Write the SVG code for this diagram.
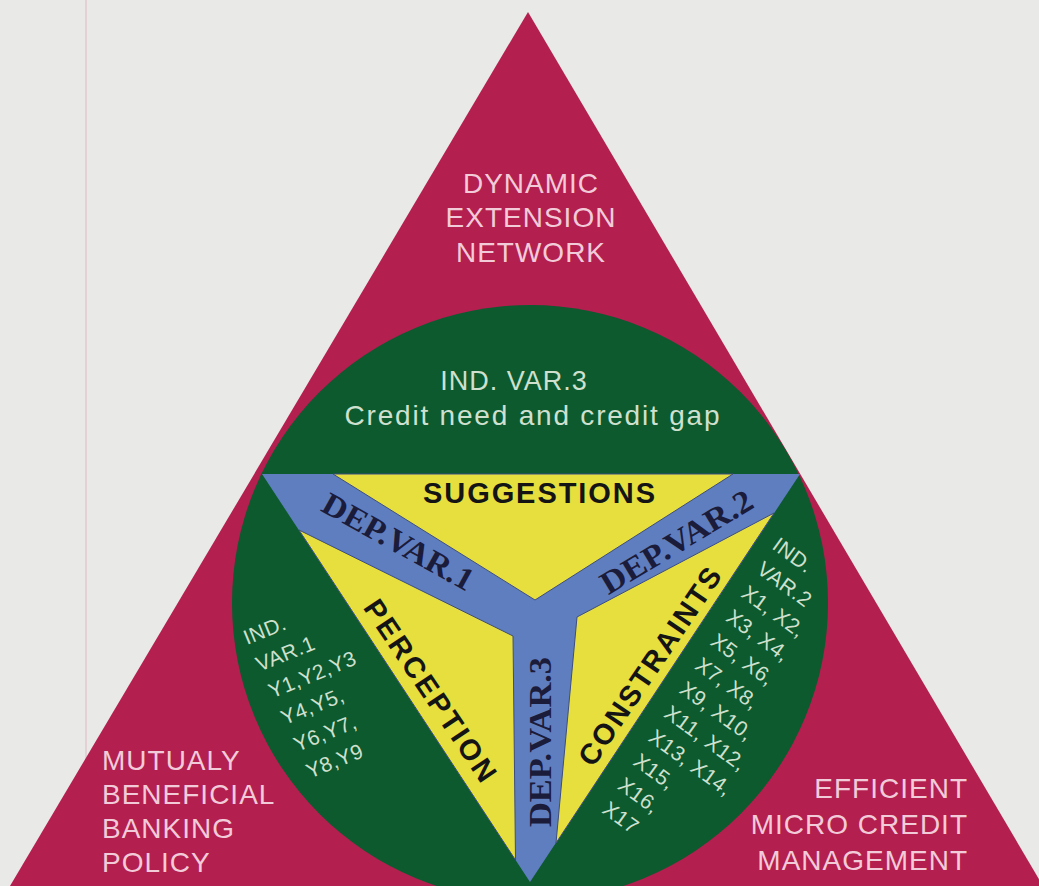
<svg xmlns="http://www.w3.org/2000/svg" width="1039" height="886" viewBox="0 0 1039 886">
<style>
.pink{font-family:"Liberation Sans",Arial,sans-serif;font-size:28px;fill:#f2cbd9;letter-spacing:1px}
.gtxt{font-family:"Liberation Sans",Arial,sans-serif;fill:#cfe0cf}
.small{font-size:21px;letter-spacing:0.5px}
.bold{font-family:"Liberation Sans",Arial,sans-serif;font-weight:bold;font-size:29px;fill:#141414}
.dep{font-family:"Liberation Serif","Times New Roman",serif;font-weight:bold;font-size:32px;fill:#1b1b3a}
.yel{fill:#e6df3e;stroke:#3d4d80;stroke-width:1}
</style>
<rect width="1039" height="886" fill="#e9e9e7"/>
<line x1="86" y1="0" x2="86" y2="830" stroke="#e2c9cf" stroke-width="1.5"/>
<g id="outer-triangle"><polygon points="528,12 10,886 1043,886" fill="#b31f4f"/></g>
<g id="circle"><circle cx="530" cy="603" r="298" fill="#0c5a2e"/></g>
<g id="inner-triangle">
<polygon points="262,474 800,474 530,882" fill="#5f7ec0"/>
<polygon class="yel" points="333,474 733,474 535,600"/>
<polygon class="yel" points="299,530 513,636 515.5,860"/>
<polygon class="yel" points="774,513 577,617 556,843"/>
</g>
<g id="label-top">
<text class="pink" x="531" y="193" text-anchor="middle">DYNAMIC</text>
<text class="pink" x="531" y="227" text-anchor="middle">EXTENSION</text>
<text class="pink" x="531" y="262" text-anchor="middle">NETWORK</text>
</g>
<g id="label-left">
<text class="pink" x="102" y="770">MUTUALY</text>
<text class="pink" x="102" y="804">BENEFICIAL</text>
<text class="pink" x="102" y="838">BANKING</text>
<text class="pink" x="102" y="872">POLICY</text>
</g>
<g id="label-right">
<text class="pink" x="968" y="798" text-anchor="end">EFFICIENT</text>
<text class="pink" x="968" y="834" text-anchor="end">MICRO CREDIT</text>
<text class="pink" x="968" y="870" text-anchor="end">MANAGEMENT</text>
</g>
<g id="ind-var-3">
<text class="gtxt" x="514" y="390" font-size="27" text-anchor="middle" letter-spacing="1">IND. VAR.3</text>
<text class="gtxt" x="532" y="425" font-size="28" text-anchor="middle" textLength="375" lengthAdjust="spacing">Credit need and credit gap</text>
</g>
<g id="suggestions"><text class="bold" x="539" y="503" text-anchor="middle" textLength="232" lengthAdjust="spacing">SUGGESTIONS</text></g>
<g id="perception"><text class="bold" transform="translate(422,696) rotate(56)" text-anchor="middle" textLength="213" lengthAdjust="spacing">PERCEPTION</text></g>
<g id="constraints"><text class="bold" transform="translate(658,672) rotate(-56)" text-anchor="middle" textLength="232" lengthAdjust="spacing">CONSTRAINTS</text></g>
<g id="dep-var-1"><text class="dep" transform="translate(393,551) rotate(29)" text-anchor="middle" textLength="168" lengthAdjust="spacingAndGlyphs">DEP.VAR.1</text></g>
<g id="dep-var-2"><text class="dep" transform="translate(682,551) rotate(-31)" text-anchor="middle" textLength="172" lengthAdjust="spacingAndGlyphs">DEP.VAR.2</text></g>
<g id="dep-var-3"><text class="dep" transform="translate(551,742) rotate(-90)" text-anchor="middle" textLength="170" lengthAdjust="spacingAndGlyphs">DEP.VAR.3</text></g>
<g id="ind-var-1" class="gtxt small" transform="translate(247,645) rotate(-22)">
<text x="0" y="0">IND.</text>
<text x="1.6" y="29.5">VAR.1</text>
<text x="3.2" y="59">Y1,Y2,Y3</text>
<text x="4.8" y="88.5">Y4,Y5,</text>
<text x="6.4" y="118">Y6,Y7,</text>
<text x="8" y="147.5">Y8,Y9</text>
</g>
<g id="ind-var-2" class="gtxt small" transform="translate(771,548) rotate(36)">
<text x="0" y="0">IND.</text>
<text x="1.6" y="28.5">VAR.2</text>
<text x="3.2" y="57">X1, X2,</text>
<text x="4.8" y="85.5">X3, X4,</text>
<text x="6.4" y="114">X5, X6,</text>
<text x="8" y="142.5">X7, X8,</text>
<text x="9.6" y="171">X9, X10,</text>
<text x="11.2" y="199.5">X11, X12,</text>
<text x="12.8" y="228">X13, X14,</text>
<text x="14.4" y="256.5">X15,</text>
<text x="16" y="285">X16,</text>
<text x="17.6" y="313.5">X17</text>
</g>
</svg>
